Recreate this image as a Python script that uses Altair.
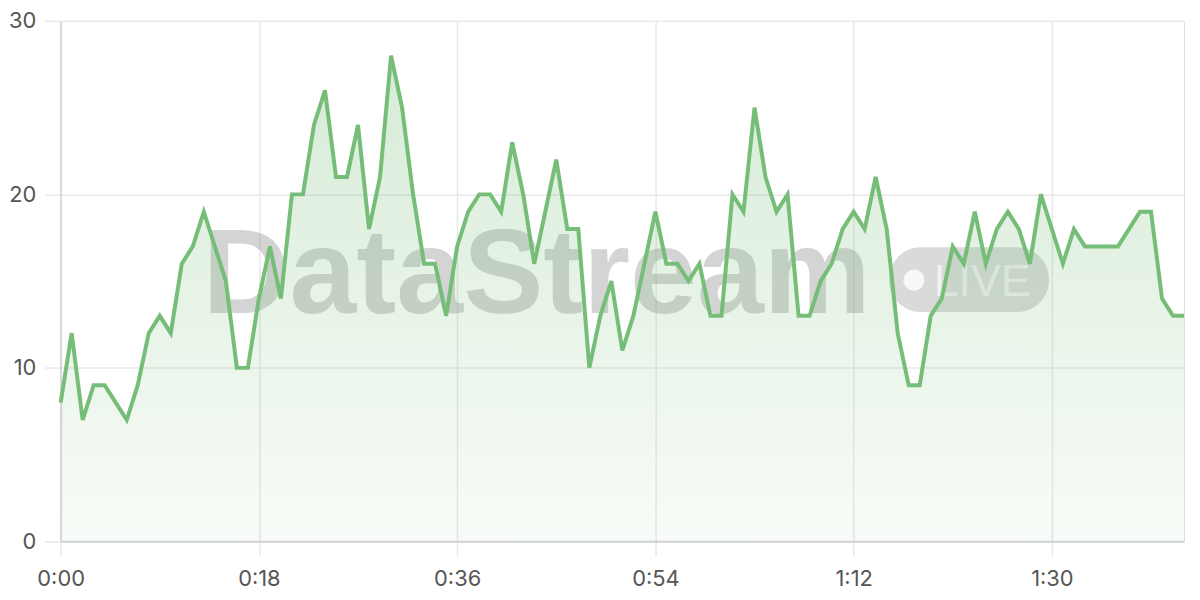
import altair as alt
import pandas as pd

values = [8, 12, 7, 9, 9, 8, 7, 9, 12, 13,
          12, 16, 17, 19, 17, 15, 10, 10, 14, 17,
          14, 20, 20, 24, 26, 21, 21, 24, 18, 21,
          28, 25, 20, 16, 16, 13, 17, 19, 20, 20,
          19, 23, 20, 16, 19, 22, 18, 18, 10, 13,
          15, 11, 13, 16, 19, 16, 16, 15, 16, 13,
          13, 20, 19, 25, 21, 19, 20, 13, 13, 15,
          16, 18, 19, 18, 21, 18, 12, 9, 9, 13,
          14, 17, 16, 19, 16, 18, 19, 18, 16, 20,
          18, 16, 18, 17, 17, 17, 17, 18, 19, 19,
          14, 13, 13]
seconds = list(range(len(values)))
x_ticks = [0, 18, 36, 54, 72, 90]
y_ticks = [0, 10, 20, 30]

df = pd.DataFrame({"t": seconds, "v": values})

GREEN = "#76bd78"
GRID = "#e8e8e8"
one = alt.Data(values=[{"k": 1}])

x_enc = alt.X(
    "t:Q",
    scale=alt.Scale(domain=[0, 102], nice=False, zero=False),
    axis=alt.Axis(
        values=x_ticks,
        labelExpr="floor(datum.value/60) + ':' + (datum.value % 60 < 10 ? '0' : '') + (datum.value % 60)",
        title=None,
        grid=True,
        gridColor=GRID,
        gridWidth=1.5,
        tickColor=GRID,
        tickWidth=1.5,
        tickSize=15,
        domainColor="#d2d2d2",
        domainWidth=2,
        labelPadding=12,
        labelFontSize=22,
        labelColor="#555555",
        labelFont="Inter",
        labelFlush=False,
    ),
)
y_enc = alt.Y(
    "v:Q",
    scale=alt.Scale(domain=[0, 30], nice=False),
    axis=alt.Axis(
        values=y_ticks,
        title=None,
        grid=True,
        gridColor=GRID,
        gridWidth=1.5,
        tickColor=GRID,
        tickWidth=1.5,
        tickSize=16,
        domainColor="#d8d8d8",
        domainWidth=2,
        labelPadding=9,
        labelFontSize=22,
        labelColor="#555555",
        labelFont="Inter",
    ),
)

wm_text = alt.Chart(one).mark_text(
    text="DataStream", font="Liberation Sans", fontWeight="bold", fontSize=121,
    align="left", baseline="alphabetic", color="#969696", opacity=0.4,
).encode(x=alt.value(143), y=alt.value(294))

badge = alt.Chart(one).mark_rect(
    color="#969696", opacity=0.35, cornerRadius=32,
).encode(x=alt.value(834), x2=alt.value(995), y=alt.value(228), y2=alt.value(293))

dot = alt.Chart(one).mark_circle(
    color="#ffffff", opacity=0.8, size=450,
).encode(x=alt.value(859), y=alt.value(261))

live = alt.Chart(one).mark_text(
    text="LIVE", font="Liberation Sans", fontSize=45, align="left",
    baseline="alphabetic", color="#ffffff", opacity=0.6,
).encode(x=alt.value(879), y=alt.value(277))

area = alt.Chart(df).mark_area(
    color=alt.Gradient(
        gradient="linear",
        stops=[
            alt.GradientStop(color="rgba(118,189,120,0.30)", offset=0),
            alt.GradientStop(color="rgba(118,189,120,0.05)", offset=1),
        ],
        x1=1, x2=1, y1=0, y2=1,
    ),
).encode(x=x_enc, y=y_enc)

line = alt.Chart(df).mark_line(
    color=GREEN, strokeWidth=4, strokeJoin="miter",
).encode(x="t:Q", y="v:Q")

chart = alt.layer(wm_text, badge, dot, live, area, line).properties(
    width=1131, height=524,
    padding={"left": 0, "top": 0, "right": 0, "bottom": 0},
).configure_view(stroke=None).configure(background="white")

chart.save("out.html", embed_options={"renderer": "svg", "actions": False})
